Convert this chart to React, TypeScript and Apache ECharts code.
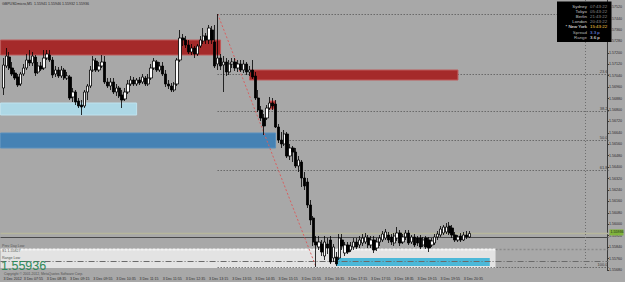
import React, { useEffect, useRef } from "react";
import * as echarts from "echarts";

const chartTitle = "GBPUSDmicro,M5  1.55941 1.55946 1.55932 1.55936";
const firstDateLabel = "3 Dec 2012";
const dayPrefix = "3 Dec";
const firstBarMinutes = 7 * 60 + 20;
const barMinutes = 5;
const futureSlots = 47;

const opens = [
  1.56954, 1.57108, 1.57171, 1.57094, 1.57059, 1.57031, 1.56982, 1.57052, 1.57094, 1.5715,
  1.57129, 1.57171, 1.57066, 1.57108, 1.57094, 1.57164, 1.57185, 1.5715, 1.57052, 1.5708,
  1.57038, 1.5708, 1.57024, 1.57031, 1.56891, 1.56926, 1.56863, 1.56835, 1.56828, 1.56926,
  1.56968, 1.5708, 1.57143, 1.5708, 1.57108, 1.57136, 1.56996, 1.56968, 1.56996, 1.56926,
  1.56954, 1.56905, 1.56877, 1.56926, 1.56982, 1.5701, 1.56982, 1.5701, 1.56996, 1.57024,
  1.56982, 1.57024, 1.57094, 1.57136, 1.5708, 1.57108, 1.57052, 1.56982, 1.56968, 1.5694,
  1.56982, 1.5715, 1.57304, 1.5729, 1.57255, 1.57206, 1.57234, 1.57192, 1.57248, 1.57283,
  1.57318, 1.5729, 1.5736, 1.57276, 1.57122, 1.57164, 1.57115, 1.57136, 1.57066, 1.57122,
  1.57136, 1.57094, 1.57122, 1.5708, 1.57122, 1.57066, 1.5708, 1.57038, 1.56884, 1.568,
  1.56744, 1.56744, 1.56814, 1.56849, 1.56842, 1.56681, 1.5659, 1.56562, 1.56632, 1.56478,
  1.56534, 1.56506, 1.56408, 1.56436, 1.56324, 1.56296, 1.56135, 1.56044, 1.55876, 1.55841,
  1.55862, 1.55778, 1.55862, 1.5589, 1.55764, 1.55771, 1.55764, 1.5589, 1.55799, 1.55855,
  1.5582, 1.55841, 1.55876, 1.55855, 1.55869, 1.55876, 1.55904, 1.55855, 1.5589, 1.55834,
  1.55876, 1.5589, 1.55904, 1.55925, 1.55911, 1.55869, 1.55904, 1.55939, 1.55876, 1.55911,
  1.55939, 1.55876, 1.55911, 1.55904, 1.55904, 1.55855, 1.55904, 1.5589, 1.55855, 1.55869,
  1.55911, 1.55925, 1.55939, 1.55946, 1.55988, 1.55974, 1.55925, 1.5589, 1.55918, 1.5589,
  1.55925, 1.55911,
];
const closes = [
  1.57115, 1.57178, 1.57094, 1.57052, 1.57024, 1.56975, 1.57052, 1.57094, 1.5715, 1.57129,
  1.57178, 1.57059, 1.57108, 1.57087, 1.57164, 1.57192, 1.5715, 1.57045, 1.5708, 1.57038,
  1.5708, 1.57024, 1.57038, 1.56884, 1.56926, 1.56856, 1.56828, 1.56821, 1.56926, 1.56968,
  1.5708, 1.5715, 1.5708, 1.57108, 1.57136, 1.56996, 1.56968, 1.56996, 1.56926, 1.56954,
  1.56898, 1.5687, 1.56926, 1.56982, 1.5701, 1.56982, 1.5701, 1.56989, 1.57031, 1.56982,
  1.57024, 1.57094, 1.57143, 1.5708, 1.57108, 1.57052, 1.56982, 1.56968, 1.5694, 1.56982,
  1.5715, 1.57304, 1.5729, 1.57255, 1.57206, 1.57234, 1.57192, 1.57248, 1.5729, 1.57318,
  1.5729, 1.57374, 1.5729, 1.57108, 1.57164, 1.57108, 1.57136, 1.57066, 1.57122, 1.57136,
  1.57094, 1.57122, 1.5708, 1.57122, 1.57066, 1.5708, 1.57031, 1.56884, 1.568, 1.56744,
  1.56688, 1.56814, 1.56849, 1.56828, 1.56681, 1.5659, 1.56562, 1.56632, 1.56478, 1.56534,
  1.56506, 1.56408, 1.5645, 1.56324, 1.56268, 1.56135, 1.5603, 1.55876, 1.55855, 1.55876,
  1.55806, 1.55876, 1.55834, 1.55736, 1.55841, 1.55722, 1.55904, 1.55848, 1.55855, 1.55806,
  1.55848, 1.55876, 1.55841, 1.5589, 1.55904, 1.55911, 1.55855, 1.5589, 1.5582, 1.55876,
  1.55904, 1.55932, 1.55946, 1.5589, 1.55876, 1.55918, 1.55939, 1.55869, 1.55911, 1.55939,
  1.55869, 1.55911, 1.55855, 1.55869, 1.55841, 1.5589, 1.55841, 1.55834, 1.55883, 1.55911,
  1.55932, 1.55967, 1.55981, 1.55981, 1.55939, 1.55925, 1.5589, 1.55911, 1.5589, 1.55925,
  1.55911, 1.55936,
];
const highs = [
  1.57164, 1.57234, 1.57206, 1.57136, 1.5708, 1.57052, 1.57066, 1.57122, 1.57192, 1.5722,
  1.57206, 1.57185, 1.57136, 1.57136, 1.5722, 1.5722, 1.5722, 1.57171, 1.57108, 1.57101,
  1.57108, 1.57094, 1.57066, 1.57045, 1.56954, 1.5694, 1.56884, 1.5687, 1.5694, 1.56982,
  1.57108, 1.57178, 1.57164, 1.57136, 1.57185, 1.57178, 1.57024, 1.57024, 1.57024, 1.56982,
  1.56968, 1.5694, 1.56954, 1.5701, 1.57038, 1.57031, 1.57024, 1.57031, 1.57052, 1.57038,
  1.57052, 1.57122, 1.57164, 1.5715, 1.57136, 1.57136, 1.5708, 1.5701, 1.56989, 1.56996,
  1.57164, 1.5736, 1.57332, 1.57318, 1.5729, 1.57262, 1.57248, 1.57262, 1.57318, 1.57374,
  1.57339, 1.57395, 1.57388, 1.57395, 1.57472, 1.57192, 1.57178, 1.57164, 1.5715, 1.57164,
  1.57164, 1.5715, 1.5715, 1.5715, 1.57136, 1.57108, 1.5715, 1.57066, 1.5694, 1.56828,
  1.56772, 1.56835, 1.56891, 1.56884, 1.5687, 1.56702, 1.56646, 1.5666, 1.56646, 1.56562,
  1.56548, 1.56534, 1.56478, 1.5645, 1.56366, 1.56324, 1.5617, 1.56058, 1.55918, 1.55918,
  1.5589, 1.55918, 1.55904, 1.55918, 1.55862, 1.55806, 1.55932, 1.55932, 1.55876, 1.55876,
  1.55876, 1.55904, 1.55904, 1.55918, 1.55932, 1.55939, 1.55925, 1.55918, 1.55918, 1.55904,
  1.55925, 1.55953, 1.55967, 1.55946, 1.55932, 1.55939, 1.55981, 1.5596, 1.55932, 1.5596,
  1.5596, 1.55925, 1.55932, 1.55918, 1.55925, 1.55911, 1.55918, 1.55911, 1.55904, 1.55932,
  1.55953, 1.55988, 1.55995, 1.56009, 1.56016, 1.55995, 1.55946, 1.55925, 1.55939, 1.55946,
  1.55953, 1.55953,
];
const lows = [
  1.56905, 1.57094, 1.5708, 1.57038, 1.5701, 1.56961, 1.56968, 1.57038, 1.5708, 1.57108,
  1.57108, 1.57038, 1.57052, 1.57073, 1.5708, 1.5715, 1.57136, 1.57024, 1.57031, 1.57024,
  1.57024, 1.5701, 1.5701, 1.5687, 1.56856, 1.56835, 1.56814, 1.56765, 1.56814, 1.5687,
  1.56954, 1.57066, 1.57066, 1.57066, 1.57094, 1.56982, 1.56954, 1.5694, 1.56912, 1.56898,
  1.56884, 1.56814, 1.56863, 1.56912, 1.56968, 1.56968, 1.56968, 1.56975, 1.56982, 1.56968,
  1.56968, 1.5701, 1.5708, 1.57066, 1.57066, 1.57038, 1.56961, 1.56947, 1.56926, 1.56926,
  1.56968, 1.57136, 1.57248, 1.57234, 1.57192, 1.57185, 1.57164, 1.57178, 1.57234, 1.57262,
  1.57262, 1.57262, 1.57262, 1.57094, 1.5708, 1.5708, 1.56926, 1.57038, 1.57045, 1.57094,
  1.57073, 1.57066, 1.57066, 1.57059, 1.57045, 1.57038, 1.57017, 1.5687, 1.56786, 1.56723,
  1.56625, 1.5673, 1.568, 1.568, 1.56674, 1.56569, 1.56534, 1.56548, 1.56464, 1.5645,
  1.56436, 1.56394, 1.56366, 1.56261, 1.5624, 1.56114, 1.55995, 1.55848, 1.55701, 1.5582,
  1.55778, 1.5575, 1.55792, 1.55722, 1.55736, 1.55708, 1.5575, 1.5582, 1.55778, 1.55792,
  1.55806, 1.5582, 1.55827, 1.55834, 1.55848, 1.55862, 1.55834, 1.55834, 1.55799, 1.55813,
  1.55848, 1.55876, 1.5589, 1.55869, 1.55855, 1.55848, 1.55883, 1.55848, 1.55862, 1.5589,
  1.55855, 1.55862, 1.55841, 1.55848, 1.55827, 1.55841, 1.55827, 1.55806, 1.55841, 1.55855,
  1.5589, 1.55911, 1.55925, 1.55932, 1.55925, 1.55904, 1.55876, 1.55876, 1.55876, 1.55883,
  1.55897, 1.55904,
];

const priceMin = 1.5568;
const priceMax = 1.5757;
const priceStep = 0.0008;

// zones: [fromBar, toBar, topPrice, bottomPrice]
const zoneSupplyUpper = [-1.5, 74.7, 1.5729, 1.57185];
const zoneSupplyLower = [84.6, 157.4, 1.5708, 1.5701];
const zoneDemandLight = [-0.9, 46.2, 1.56849, 1.56765];
const zoneDemandSteel = [-1.5, 93.9, 1.56639, 1.56534];
const zoneInfoPanel = [-1.5, 170.4, 1.55827, 1.55694];
const zoneCyan = [114.8, 168, 1.55764, 1.55708];
const zoneMarker = [91.7, 94.4, 1.56863, 1.56807];

const fibLevels = [0, 23.6, 38.2, 50, 61.8, 100];
const levelDark = 1.55911;
const levelDashed = 1.55827;
const levelDashDot = 1.55745;
const separatorBar = 201.3;

const bigPriceText = "1.55936";
const copyrightText = "Copyright \u00a9 2001-2012, MetaQuotes Software Corp.";
const sideNotes = ["Prev Day Low", "S1 1.55827", "Range Low"];
const sessionNames = ["Sydney", "Tokyo", "Berlin", "London", "* New York", "Spread", "Range"];
const sessionValues = ["07:43:22", "05:43:22", "21:43:22", "20:43:22", "15:43:22", "3.3 p", "3.6 p"];

const pad = (n: number) => (n < 10 ? "0" + n : "" + n);
const FONT = "'Liberation Sans', Arial, sans-serif";

export default function App() {
  const ref = useRef<HTMLDivElement>(null);
  useEffect(() => {
    const el = ref.current!;
    const chart = echarts.init(el, null, { renderer: "svg" });
    const n = opens.length;
    const categories: string[] = [];
    for (let i = 0; i < n + futureSlots; i++) {
      if (i < n) {
        const m = firstBarMinutes + i * barMinutes;
        categories.push(`${dayPrefix} ${pad(Math.floor(m / 60))}:${pad(m % 60)}`);
      } else categories.push(`future${i}`);
    }
    const candleData = opens.map((o, i) => [o, closes[i], lows[i], highs[i]]);
    chart.setOption({
      animation: false,
      backgroundColor: "#A8A8A8",
      grid: { left: 2, right: 14, top: 0, bottom: 12 },
      xAxis: {
        type: "category",
        data: categories,
        boundaryGap: true,
        axisLine: { show: false },
        axisTick: { show: false },
        splitLine: { show: false },
        axisLabel: {
          interval: (i: number) => i === 0 || (i % 8 === 7 && i < n),
          formatter: (v: string, i: number) => (i === 0 ? firstDateLabel : v),
          align: "left",
          margin: 7,
          fontSize: 3.6,
          color: "#2a2a2a",
          fontFamily: FONT,
        },
      },
      yAxis: {
        type: "value",
        position: "right",
        min: priceMin,
        max: priceMax,
        interval: priceStep,
        axisLine: { show: true, lineStyle: { color: "#3a3a3a", width: 1 } },
        axisTick: { show: true, length: 2, lineStyle: { color: "#3a3a3a" } },
        splitLine: { show: false },
        axisLabel: {
          formatter: (v: number) => v.toFixed(5),
          fontSize: 3.6,
          margin: 2,
          color: "#2a2a2a",
          fontFamily: FONT,
          showMaxLabel: false,
        },
      },
      series: [
        {
          type: "candlestick",
          data: candleData,
          barWidth: 2.8,
          z: 2,
          itemStyle: {
            color: "#ffffff",
            color0: "#000000",
            borderColor: "#000000",
            borderColor0: "#000000",
            borderWidth: 0.8,
          },
        },
      ],
    });

    const toPx = (bar: number, price: number) =>
      chart.convertToPixel({ gridIndex: 0 } as any, [bar, price]) as unknown as number[];
    const rightBar = n + futureSlots - 0.5;
    const g: any[] = [];
    const addRect = (z: number[], fill: string, stroke?: string) => {
      const a = toPx(z[0], z[2]);
      const b = toPx(z[1], z[3]);
      g.push({
        type: "rect",
        z: 1,
        silent: true,
        shape: { x: Math.min(a[0], b[0]), y: Math.min(a[1], b[1]), width: Math.abs(b[0] - a[0]), height: Math.abs(b[1] - a[1]) },
        style: { fill, stroke: stroke || "none", lineWidth: stroke ? 1 : 0 },
      });
    };
    const addHLine = (fromBar: number, toBar: number, price: number, stroke: string, lineDash: number[] | null, lw = 1) => {
      const a = toPx(fromBar, price);
      const b = toPx(toBar, price);
      const y = Math.round(a[1]) + 0.5;
      g.push({
        type: "line",
        z: 1,
        silent: true,
        shape: { x1: a[0], y1: y, x2: b[0], y2: y },
        style: { stroke, lineWidth: lw, lineDash: lineDash || undefined },
      });
    };

    // bottom panel and lines
    addRect(zoneInfoPanel, "#E3E3E3");
    addHLine(-1.5, zoneInfoPanel[1], levelDashed, "#F6F6F6", [3, 1], 2);
    addHLine(zoneInfoPanel[1], rightBar, levelDashed, "#8A8A8A", [2, 2], 1.5);
    addRect(zoneCyan, "#4CB8D8");
    addHLine(-1.5, rightBar, levelDashDot, "#6A6A6A", [6, 2, 1, 2], 1);

    // fibonacci
    let hiBar = 0;
    let loBar = 0;
    highs.forEach((h, i) => { if (h > highs[hiBar]) hiBar = i; });
    lows.forEach((l, i) => { if (l < lows[loBar]) loBar = i; });
    const hi = highs[hiBar];
    const lo = lows[loBar];
    const rightPx = toPx(rightBar, hi)[0];
    fibLevels.forEach((lv) => {
      const price = hi - ((hi - lo) * lv) / 100;
      addHLine(hiBar, rightBar, price, "#4a4a4a", [1, 2], 1);
      if (lv === 0) return; // the 0.0 caption sits under the session box
      const p = toPx(rightBar, price);
      g.push({
        type: "text",
        z: 1,
        silent: true,
        style: {
          text: lv.toFixed(1),
          x: rightPx - 1,
          y: Math.round(p[1]) - 0.5,
          textAlign: "right",
          textVerticalAlign: "bottom",
          font: `4px ${FONT}`,
          fill: "#3a3a3a",
        },
      });
    });

    // zones
    addRect(zoneSupplyUpper, "#A52A2A", "#BE5A5A");
    addRect(zoneSupplyLower, "#A52A2A", "#BE5A5A");
    addRect(zoneDemandLight, "#ADD8E6", "#BFE2EE");
    addRect(zoneDemandSteel, "#4682B4", "#5A90BE");
    addRect(zoneMarker, "#B03030", "#D06060");

    // horizontal price lines
    addHLine(-1.5, rightBar, levelDark, "#4A4A4A", null, 1);
    addHLine(-1.5, rightBar, closes[n - 1], "#B6B69C", null, 1.5);

    // trend line
    const t1 = toPx(hiBar, hi);
    const t2 = toPx(loBar, lo);
    g.push({
      type: "line",
      z: 1,
      silent: true,
      shape: { x1: t1[0], y1: t1[1], x2: t2[0], y2: t2[1] },
      style: { stroke: "#D86060", lineWidth: 1, lineDash: [2, 2] },
    });

    // vertical separator
    const s1 = toPx(separatorBar, priceMax);
    const s2 = toPx(separatorBar, priceMin);
    g.push({
      type: "line",
      z: 1,
      silent: true,
      shape: { x1: Math.round(s1[0]) + 0.5, y1: s1[1], x2: Math.round(s1[0]) + 0.5, y2: s2[1] },
      style: { stroke: "#6E6E6E", lineWidth: 1, lineDash: [1, 2] },
    });

    // bid label on axis
    const bidPx = toPx(rightBar, closes[n - 1]);
    g.push({
      type: "rect",
      z: 5,
      silent: true,
      shape: { x: bidPx[0] + 1, y: bidPx[1] - 4, width: 14, height: 6 },
      style: { fill: "#80B43C" },
    });
    g.push({
      type: "text",
      z: 6,
      silent: true,
      style: { text: closes[n - 1].toFixed(5), x: bidPx[0] + 2, y: bidPx[1] - 1, textVerticalAlign: "middle", font: `3.6px ${FONT}`, fill: "#1a1a1a" },
    });

    // texts
    g.push({ type: "text", z: 1, silent: true, style: { text: chartTitle, x: 2, y: 4, textVerticalAlign: "middle", font: `3.6px ${FONT}`, fill: "#2a2a2a" } });
    sideNotes.forEach((t, i) => {
      g.push({ type: "text", z: 1, silent: true, style: { text: t, x: 2, y: [245.5, 250.5, 257.5][i], textVerticalAlign: "middle", font: `3.6px ${FONT}`, fill: "#555555" } });
    });
    g.push({ type: "text", z: 1, silent: true, style: { text: bigPriceText, x: 1, y: 265.5, textVerticalAlign: "middle", font: `12.5px ${FONT}`, fill: "#2F8A59" } });
    g.push({ type: "text", z: 1, silent: true, style: { text: copyrightText, x: 4, y: 274.2, textVerticalAlign: "middle", font: `3.4px ${FONT}`, fill: "#505050" } });

    // info box
    g.push({ type: "rect", z: 100, silent: true, shape: { x: 557, y: 1.5, width: 54.5, height: 40.5 }, style: { fill: "#000000" } });
    const nameColors = ["#C8C8C8", "#C8C8C8", "#C8C8C8", "#C8C8C8", "#FFFFFF", "#B4B4B4", "#B4B4B4"];
    const valueColors = ["#8C8C8C", "#8C8C8C", "#8C8C8C", "#8C8C8C", "#FFD24A", "#7E9CFF", "#FFFFFF"];
    sessionNames.forEach((name, i) => {
      const y = 6 + i * 5.2;
      g.push({ type: "text", z: 101, silent: true, style: { text: name, x: 587, y, textAlign: "right", textVerticalAlign: "middle", font: `4.4px ${FONT}`, fill: nameColors[i] } });
      g.push({ type: "text", z: 101, silent: true, style: { text: sessionValues[i], x: 590, y, textAlign: "left", textVerticalAlign: "middle", font: `4.4px ${FONT}`, fill: valueColors[i] } });
    });

    chart.setOption({ graphic: { elements: g } });
    return () => chart.dispose();
  }, []);
  return <div ref={ref} style={{ position: "fixed", left: 0, top: 0, width: 625, height: 282 }} />;
}
